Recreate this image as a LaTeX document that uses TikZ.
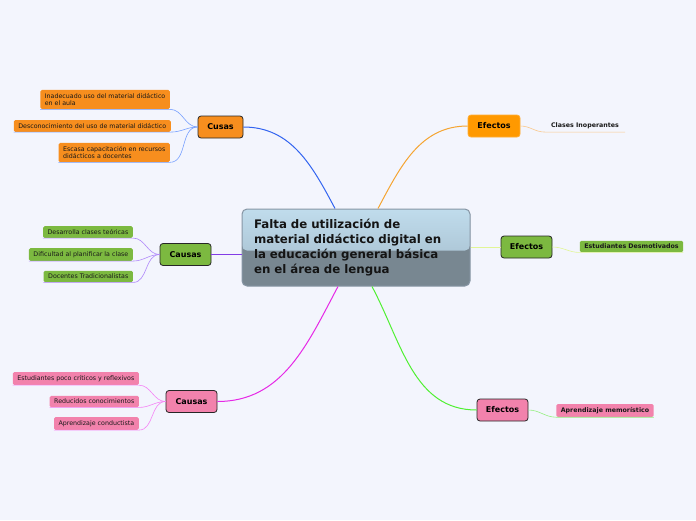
\documentclass[tikz,border=0pt]{standalone}
\usepackage{fontspec}
\setmainfont{DejaVu Sans}
\usepackage{tikz}
\usetikzlibrary{positioning,arrows.meta}

\definecolor{bgblue}{RGB}{243,245,253}
\definecolor{mmorange}{RGB}{247,142,30}
\definecolor{mmamber}{RGB}{255,153,0}
\definecolor{mmgreen}{RGB}{124,185,64}
\definecolor{mmpink}{RGB}{242,130,172}
\definecolor{lnblue}{RGB}{50,100,240}
\definecolor{lnblueL}{RGB}{120,160,255}
\definecolor{lnpurple}{RGB}{130,60,230}
\definecolor{lnpurpleL}{RGB}{175,135,250}
\definecolor{lnmagenta}{RGB}{230,40,230}
\definecolor{lnmagentaL}{RGB}{245,130,245}
\definecolor{lnorange}{RGB}{245,165,50}
\definecolor{lnorangeL}{RGB}{250,200,140}
\definecolor{lnlime}{RGB}{225,245,150}
\definecolor{lngreen}{RGB}{80,240,50}
\definecolor{lngreenL}{RGB}{150,240,130}
\definecolor{topblue}{RGB}{192,220,236}
\definecolor{midblue}{RGB}{160,184,200}
\definecolor{botgray}{RGB}{120,135,145}

\begin{document}
\begin{tikzpicture}[x=1pt, y=-1pt,
    central/.style={draw={rgb,255:red,135;green,150;blue,165}, line width=1pt, rounded corners=5pt, fill=botgray,
        minimum width=228pt, minimum height=77pt, text width=204pt, align=left,
        font=\fontsize{11.8}{15}\selectfont\bfseries, text={rgb,255:red,20;green,20;blue,20},
        path picture={\shade[top color=topblue, bottom color=midblue] (path picture bounding box.north west) rectangle ([yshift=-3pt]path picture bounding box.east);}},
    branch/.style={draw=black!85, line width=0.8pt, rounded corners=3pt, minimum width=51pt, minimum height=22pt,
        inner sep=1pt, font=\fontsize{8}{9}\selectfont\bfseries},
    leaf/.style={rounded corners=1.5pt, inner xsep=4.5pt, inner ysep=3.3pt, align=left,
        font=\fontsize{6.3}{7.5}\selectfont, text=black!90},
    bleaf/.style={leaf, font=\fontsize{6.3}{7.5}\selectfont\bfseries},
    link/.style={line width=1pt},
    twig/.style={line width=0.6pt}
]
    \useasboundingbox (0,0) rectangle (696,520);
    \fill[bgblue] (0,0) rectangle (696,520);

    % centre
    \node[central] (center) at (356,247.5) {Falta de utilización de\\ material didáctico digital en\\ la educación general básica\\ en el área de lengua};

    % left branches
    \node[branch, fill=mmorange, minimum width=45pt] (cusas) at (220.5,127) {Cusas};
    \node[branch, fill=mmgreen] (causasA) at (185.5,254.5) {Causas};
    \node[branch, fill=mmpink] (causasB) at (191.5,401.5) {Causas};

    % right branches
    \node[branch, fill=mmamber, draw=mmamber!80!white, minimum width=52pt] (efectosA) at (494,126) {Efectos};
    \node[branch, fill=mmgreen] (efectosB) at (526.5,247) {Efectos};
    \node[branch, fill=mmpink] (efectosC) at (502.5,410) {Efectos};

    % leaves of Cusas
    \node[leaf, fill=mmorange, anchor=east] (o1) at (170,99.5) {Inadecuado uso del material didáctico\\ en el aula};
    \node[leaf, fill=mmorange, anchor=east] (o2) at (171,126) {Desconocimiento del uso de material didáctico};
    \node[leaf, fill=mmorange, anchor=east] (o3) at (170,152.5) {Escasa capacitación en recursos\\ didácticos a docentes};

    % leaves of Causas (green)
    \node[leaf, fill=mmgreen, anchor=east] (g1) at (133,232) {Desarrolla clases teóricas};
    \node[leaf, fill=mmgreen, anchor=east] (g2) at (133,254.5) {Dificultad al planificar la clase};
    \node[leaf, fill=mmgreen, anchor=east] (g3) at (133,276.5) {Docentes Tradicionalistas};

    % leaves of Causas (pink)
    \node[leaf, fill=mmpink, anchor=east] (p1) at (139,378.5) {Estudiantes poco críticos y reflexivos};
    \node[leaf, fill=mmpink, anchor=east] (p2) at (139,401.5) {Reducidos conocimientos};
    \node[leaf, fill=mmpink, anchor=east] (p3) at (139,423.5) {Aprendizaje conductista};

    % leaves of Efectos
    \node[bleaf, minimum width=80pt, align=center] (e1) at (585,125.5) {Clases Inoperantes};
    \node[bleaf, fill=mmgreen] (e2) at (631.5,246.5) {Estudiantes Desmotivados};
    \node[bleaf, fill=mmpink] (e3) at (605,410.5) {Aprendizaje memorístico};

    % main links
    \draw[link, lnblue] (cusas.east) to[out=0, in=118] ([xshift=-21pt]center.north);
    \draw[link, lnpurple] (center.west |- causasA.east) -- (causasA.east);
    \draw[link, lnmagenta] ([xshift=-18pt]center.south) to[out=-118, in=0] (causasB.east);
    \draw[link, lnorange] ([xshift=22pt]center.north) to[out=62, in=180] (efectosA.west);
    \draw[link, lnlime] (center.east |- efectosB.west) -- (efectosB.west);
    \draw[link, lngreen] ([xshift=16pt]center.south) to[out=-62, in=180] (efectosC.west);

    % twigs
    \foreach \n in {o1,o2,o3}
        \draw[twig, lnblueL] (\n.south west) -- (\n.south east) to[out=0, in=180] (cusas.west);
    \foreach \n in {g1,g2,g3}
        \draw[twig, lnpurpleL] (\n.south west) -- (\n.south east) to[out=0, in=180] (causasA.west);
    \foreach \n in {p1,p2,p3}
        \draw[twig, lnmagentaL] (\n.south west) -- (\n.south east) to[out=0, in=180] (causasB.west);
    \draw[twig, lnorangeL] (efectosA.east) to[out=0, in=180] (e1.south west) -- (e1.south east);
    \draw[twig, lnlime] (efectosB.east) to[out=0, in=180] (e2.south west) -- (e2.south east);
    \draw[twig, lngreenL] (efectosC.east) to[out=0, in=180] (e3.south west) -- (e3.south east);

\end{tikzpicture}
\end{document}
